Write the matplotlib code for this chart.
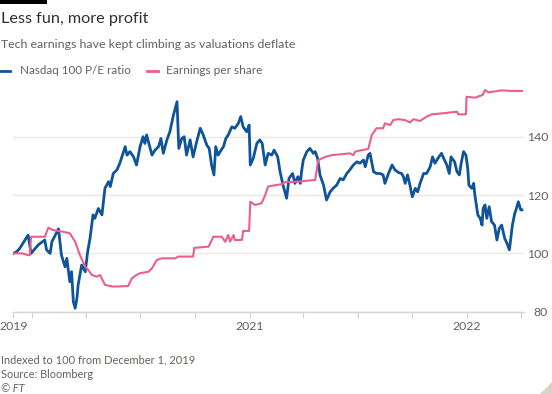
import datetime as dt
import matplotlib
matplotlib.use("Agg")
import matplotlib.pyplot as plt
from matplotlib.lines import Line2D
from matplotlib.patches import Rectangle, Polygon

plt.rcParams['font.family'] = ['Lato', 'DejaVu Sans']

start = dt.datetime(2019, 12, 1)

# Nasdaq 100 P/E ratio, indexed (days after 1 Dec 2019, value)
pe_days = [0, 6, 11, 25, 30, 42, 53, 56, 62, 65,
           76, 81, 87, 90, 95, 98, 101, 104, 107, 109,
           115, 121, 125, 129, 134, 137, 143, 149, 154, 160,
           163, 168, 174, 179, 188, 191, 196, 202, 207, 213,
           218, 221, 224, 230, 233, 238, 244, 248, 252, 258,
           263, 269, 275, 278, 283, 287, 291, 297, 302, 308,
           314, 319, 325, 329, 333, 337, 340, 344, 349, 353,
           357, 361, 367, 372, 378, 382, 386, 392, 396, 398,
           403, 409, 414, 418, 423, 428, 434, 438, 444, 448,
           453, 459, 463, 469, 473, 478, 482, 484, 487, 493,
           498, 504, 507, 511, 515, 521, 526, 532, 537, 543,
           549, 554, 560, 565, 571, 577, 582, 588, 591, 596,
           599, 605, 610, 616, 621, 624, 630, 636, 641, 647,
           652, 655, 658, 662, 666, 670, 675, 679, 683, 689,
           694, 700, 704, 708, 713, 719, 724, 728, 732, 735,
           741, 745, 749, 752, 756, 760, 763, 765, 770, 773,
           775, 780, 784, 787, 789, 792, 795, 799, 803, 808,
           812, 816, 820, 825, 829, 833, 838, 842, 844, 848,
           852, 854]
pe_vals = [100.0, 100.6, 101.7, 106.3, 100.0, 102.9, 104.6, 101.2, 100.0, 104.0,
           108.4, 99.4, 95.4, 98.3, 90.3, 93.7, 83.4, 81.2, 84.6, 89.2,
           96.0, 93.7, 100.6, 105.2, 113.2, 112.0, 115.4, 113.2, 122.3, 124.6,
           122.9, 127.4, 128.6, 130.9, 136.6, 133.7, 134.9, 133.1, 130.3, 136.6,
           140.0, 137.7, 140.6, 136.0, 133.7, 135.4, 136.6, 139.4, 134.3, 138.9,
           141.7, 147.4, 152.0, 136.0, 139.4, 140.0, 133.7, 138.9, 133.1, 138.3,
           142.9, 140.6, 137.1, 136.0, 130.3, 126.9, 136.6, 133.7, 135.4, 136.6,
           139.4, 140.6, 143.4, 142.9, 144.6, 146.9, 143.4, 141.7, 144.0, 130.3,
           132.6, 137.7, 138.9, 137.7, 130.3, 134.3, 133.7, 135.4, 133.1, 128.0,
           123.4, 118.9, 125.7, 127.4, 124.0, 126.3, 124.0, 128.0, 132.0, 134.9,
           136.0, 134.3, 134.9, 132.6, 126.9, 123.4, 118.3, 121.1, 122.3, 123.4,
           125.7, 125.2, 127.4, 128.6, 130.3, 131.4, 130.9, 132.0, 129.7, 133.7,
           134.3, 128.0, 127.4, 127.4, 126.9, 124.0, 127.4, 130.3, 128.6, 127.7,
           127.4, 126.3, 124.0, 126.9, 123.4, 119.4, 122.3, 121.1, 124.0, 127.4,
           127.4, 129.7, 133.1, 130.9, 132.6, 134.3, 132.0, 130.3, 127.4, 133.1,
           131.4, 128.0, 126.9, 130.9, 134.9, 133.7, 129.2, 123.4, 122.3, 124.0,
           120.0, 113.2, 112.0, 109.7, 115.4, 116.6, 112.0, 116.0, 110.9, 109.7,
           104.6, 108.6, 109.7, 105.2, 103.4, 101.2, 109.7, 113.7, 114.9, 117.7,
           114.9, 114.9]

# Earnings per share, indexed
eps_days = [0, 15, 25, 28, 30, 53, 59, 67, 84, 95,
            104, 112, 121, 126, 132, 140, 146, 154, 168, 193,
            199, 207, 213, 227, 233, 241, 249, 272, 277, 302,
            304, 328, 336, 350, 356, 361, 364, 370, 372, 384,
            386, 396, 398, 406, 417, 423, 428, 440, 451, 456,
            479, 507, 512, 524, 535, 552, 565, 571, 574, 585,
            596, 602, 610, 621, 624, 633, 638, 647, 658, 666,
            672, 683, 694, 703, 725, 745, 747, 760, 761, 775,
            788, 792, 798, 820, 837, 854]
eps_vals = [100.0, 100.0, 99.4, 99.4, 105.7, 105.7, 108.8, 108.0, 107.4, 106.9,
            104.0, 99.4, 95.4, 94.3, 92.6, 92.0, 92.6, 89.2, 88.6, 88.8,
            91.4, 92.6, 93.2, 93.7, 94.9, 97.7, 98.3, 98.3, 98.9, 98.9,
            101.9, 102.3, 105.7, 105.7, 104.0, 106.3, 104.0, 106.3, 104.6, 104.6,
            107.7, 107.7, 117.7, 116.6, 117.2, 120.0, 122.9, 123.4, 123.7, 124.4,
            124.6, 125.2, 132.0, 133.1, 133.7, 134.0, 134.3, 133.7, 134.9, 135.4,
            135.8, 140.6, 142.9, 142.9, 144.6, 144.0, 145.7, 146.0, 145.7, 144.9,
            146.0, 145.4, 146.9, 147.7, 148.1, 148.6, 147.7, 147.7, 153.7, 153.4,
            154.3, 156.0, 155.2, 155.9, 155.7, 155.7]

x_ticks = ["2019-12-01", "2020-01-01", "2020-04-01", "2020-07-01", "2020-10-01",
           "2021-01-01", "2021-04-01", "2021-07-01", "2021-10-01",
           "2022-01-01", "2022-04-01"]
x_labels = ["2019", "", "", "", "", "2021", "", "", "", "2022", ""]
y_ticks = [80, 100, 120, 140]

blue = "#0f5499"
pink = "#eb5e8d"
grey = "#66605c"

pe_dates = [start + dt.timedelta(days=d) for d in pe_days]
eps_dates = [start + dt.timedelta(days=d) for d in eps_days]

W, H = 552, 394
fig = plt.figure(figsize=(W / 100, H / 100), dpi=100)
fig.patch.set_facecolor("white")

# axes placed in pixel terms
left, right = 13.2, 524.3
top, bottom = 78.4, 311.7
ax = fig.add_axes([left / W, 1 - bottom / H, (right - left) / W, (bottom - top) / H])

ax.plot(pe_dates, pe_vals, color=blue, lw=2.0, zorder=3, solid_joinstyle="round")
ax.plot(eps_dates, eps_vals, color=pink, lw=1.5, zorder=4, solid_joinstyle="round")

ax.set_xlim(start, dt.datetime(2022, 4, 7))
ax.set_ylim(80, 160)

ax.set_yticks(y_ticks)
ax.yaxis.tick_right()
ax.tick_params(axis="y", length=0, pad=17, labelsize=8.8, labelcolor=grey)
for lab in ax.get_yticklabels():
    lab.set_horizontalalignment("right")
ax.grid(axis="y", color="#ece7e2", lw=1)

ax.set_xticks([dt.datetime.strptime(s, "%Y-%m-%d") for s in x_ticks])
ax.set_xticklabels(x_labels)
ax.tick_params(axis="x", length=4, width=0.8, color="#d9cfc6", pad=3,
               labelsize=8.8, labelcolor=grey)

for s in ["top", "left", "right"]:
    ax.spines[s].set_visible(False)
ax.spines["bottom"].set_color("#ddd3ca")
ax.spines["bottom"].set_linewidth(1)
ax.set_axisbelow(True)

# header
fig.add_artist(Rectangle((0, 1 - 3.5 / H), 47 / W, 3.5 / H, transform=fig.transFigure,
                         color="black", lw=0))
fig.text(1 / W, 1 - 23.5 / H, "Less fun, more profit", fontsize=11.7,
         color="#33302e", va="baseline")
fig.text(1 / W, 1 - 48.5 / H, "Tech earnings have kept climbing as valuations deflate",
         fontsize=8.95, color=grey, va="baseline")

# legend
fig.add_artist(Line2D([0, 10 / W], [1 - 70.5 / H] * 2, color=blue, lw=2,
                      transform=fig.transFigure))
fig.text(20 / W, 1 - 74 / H, "Nasdaq 100 P/E ratio", fontsize=8.4, color=grey,
         va="baseline")
fig.add_artist(Line2D([147 / W, 158 / W], [1 - 70.5 / H] * 2, color=pink, lw=2,
                      transform=fig.transFigure))
fig.text(166 / W, 1 - 74 / H, "Earnings per share", fontsize=8.6, color=grey,
         va="baseline")

# footer
fig.text(1 / W, 1 - 363 / H, "Indexed to 100 from December 1, 2019", fontsize=7.9,
         color=grey, va="baseline")
fig.text(1 / W, 1 - 377.7 / H, "Source: Bloomberg", fontsize=7.9, color=grey,
         va="baseline")
fig.text(1 / W, 1 - 391.5 / H, "© FT", fontsize=7.9, color=grey, style="italic",
         va="baseline")
fig.add_artist(Polygon([[1, 0], [1, 12 / H], [1 - 12 / W, 0]], closed=True,
                       transform=fig.transFigure, color="#d8d1c8", lw=0))

fig.savefig("out.png", dpi=100)
